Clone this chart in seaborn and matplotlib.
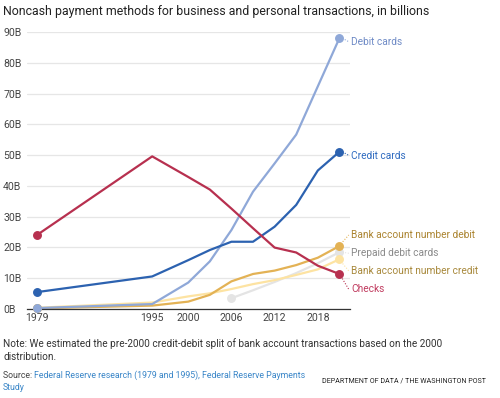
import numpy as np
import pandas as pd
import matplotlib
matplotlib.use("Agg")
import matplotlib.pyplot as plt
import seaborn as sns

years = [1979, 1995, 2000, 2003, 2006, 2009, 2012, 2015, 2018, 2021]
checks = [24.0, 49.6, 42.9, 38.8, 32.6, 26.2, 19.9, 18.3, 14.0, 11.3]
credit_cards = [5.4, 10.5, 15.8, 19.1, 21.8, 21.8, 26.7, 33.8, 45.0, 51.1]
debit_cards = [0.2, 1.5, 8.5, 15.4, 25.6, 38.1, 47.3, 56.7, 72.4, 88.1]
ach_debit = [0.1, 1.0, 2.3, 4.5, 8.9, 11.3, 12.4, 14.2, 16.6, 20.4]
ach_credit = [0.3, 2.0, 4.0, 5.0, 6.4, 8.0, 9.3, 11.0, 12.8, 16.1]
prepaid = [np.nan, np.nan, np.nan, np.nan, 3.4, 6.0, 8.7, 11.6, 14.8, 18.4]

series_names = ["Prepaid debit cards", "Bank account number credit",
                "Bank account number debit", "Debit cards", "Credit cards", "Checks"]
series_values = [prepaid, ach_credit, ach_debit, debit_cards, credit_cards, checks]
line_colors = ["#e4e4e4", "#fde3a2", "#e3b255", "#8fa8d8", "#2c62b0", "#b7304f"]
label_colors = ["#8a8a8a", "#a8893c", "#ab8430", "#6f8bc6", "#2f6bc0", "#c03a5e"]
label_y = [18.0, 12.3, 24.0, 86.8, 49.8, 6.3]

rows = []
for name, vals in zip(series_names, series_values):
    for y, v in zip(years, vals):
        rows.append({"year": y, "value": v, "series": name})
df = pd.DataFrame(rows)

sns.set_theme(style="white")
plt.rcParams["font.family"] = ["Roboto", "DejaVu Sans"]

fig = plt.figure(figsize=(5.0, 3.98), dpi=100)
ax = fig.add_axes([0.0534, 0.2244, 0.6466, 0.6944])

palette = dict(zip(series_names, line_colors))
sns.lineplot(data=df, x="year", y="value", hue="series", hue_order=series_names,
             palette=palette, linewidth=1.6, legend=False, ax=ax, sort=True)

for name, vals, lc, tc, ly in zip(series_names, series_values, line_colors, label_colors, label_y):
    arr = np.array(vals, dtype=float)
    idx = np.where(~np.isnan(arr))[0]
    first, last = idx[0], idx[-1]
    ax.plot([years[first], years[last]], [arr[first], arr[last]], "o", color=lc,
            markersize=5.4, clip_on=False, zorder=5)
    x_lab = 2022.6
    if abs(ly - arr[last]) > 2:
        ax.plot([years[last] + 0.2, x_lab - 0.3], [arr[last] + (0.7 if ly > arr[last] else -0.7), ly],
                linestyle=(0, (1, 1.5)), color=lc, linewidth=0.8, clip_on=False)
    else:
        ax.plot([years[last] + 0.4, x_lab - 0.2], [arr[last], ly],
                linestyle=(0, (1, 1.5)), color=lc, linewidth=0.8, clip_on=False)
    ax.text(x_lab, ly, name, color=tc, fontsize=7.3, va="center", ha="left")

ax.set_xlim(1977.57, 2022.47)
ax.set_ylim(0, 90)
ax.set_xticks([1979, 1995, 2000, 2006, 2012, 2018])
ax.set_xticklabels(["1979", "1995", "2000", "2006", "2012", "2018"])
ax.set_yticks(list(range(0, 100, 10)))
ax.set_yticklabels([f"{v}B" for v in range(0, 100, 10)])
for t in ax.get_yticklabels():
    t.set_ha("left")
ax.tick_params(axis="y", length=0, pad=17, labelsize=7.6, labelcolor="#444444")
ax.tick_params(axis="x", length=0, pad=3, labelsize=7.6, labelcolor="#444444")
ax.yaxis.grid(True, color="#e6e6e6", linewidth=0.9)
ax.xaxis.grid(False)
ax.set_axisbelow(True)
for s in ["top", "right", "left"]:
    ax.spines[s].set_visible(False)
ax.spines["bottom"].set_color("#333333")
ax.spines["bottom"].set_linewidth(0.9)
ax.set_xlabel("")
ax.set_ylabel("")

fig.text(3 / 500, 1 - 11 / 398, "Noncash payment methods for business and personal transactions, in billions",
         fontsize=8.95, color="#222222", va="center", ha="left")
fig.text(3 / 500, 1 - 344 / 398,
         "Note: We estimated the pre-2000 credit-debit split of bank account transactions based on the 2000",
         fontsize=7.2, color="#333333", va="center", ha="left")
fig.text(3 / 500, 1 - 356.5 / 398, "distribution.", fontsize=7.2, color="#333333", va="center", ha="left")

src = fig.text(3 / 500, 1 - 375.5 / 398, "Source: ", fontsize=6.3, color="#444444", va="center", ha="left")
fig.canvas.draw()
w = src.get_window_extent().width
fig.text((3 + w) / 500, 1 - 375.5 / 398, "Federal Reserve research (1979 and 1995), Federal Reserve Payments",
         fontsize=6.3, color="#3a86c8", va="center", ha="left")
fig.text(3 / 500, 1 - 387 / 398, "Study", fontsize=6.3, color="#3a86c8", va="center", ha="left")
fig.text(486 / 500, 1 - 381 / 398, "DEPARTMENT OF DATA / THE WASHINGTON POST",
         fontsize=5.1, color="#222222", va="center", ha="right")

fig.savefig("out.png", dpi=100)
